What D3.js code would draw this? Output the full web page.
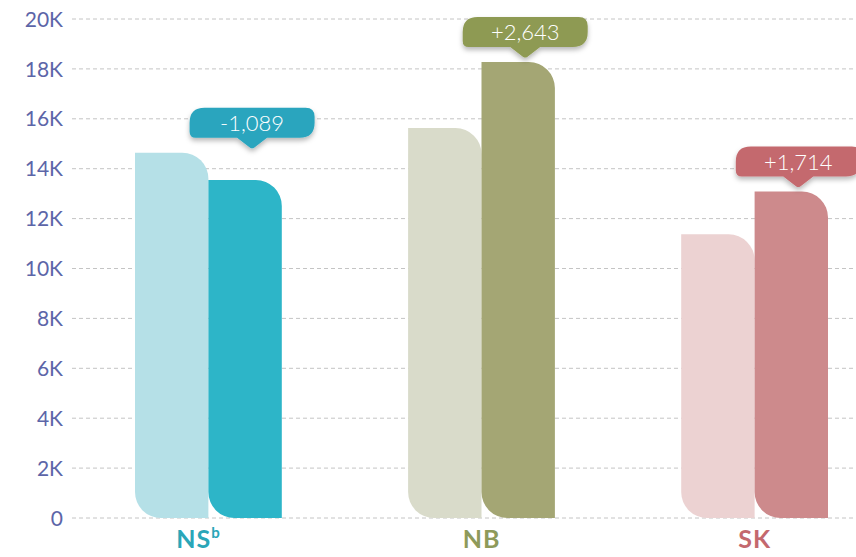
<!DOCTYPE html>
<html>
<head>
<meta charset="utf-8">
<script src="https://cdn.jsdelivr.net/npm/d3@7"></script>
<style>
  html, body { margin: 0; padding: 0; background: #ffffff; }
  svg { display: block; }
</style>
</head>
<body>
<svg id="chart" width="856" height="557"></svg>
<script>
// ---- data ----
const categories   = ["NS", "NB", "SK"];
const superscripts = ["b", "", ""];
const previous     = [14640, 15630, 11370];
const current      = [13551, 18273, 13084];
const changes      = [-1089, 2643, 1714];
const yTickValues  = [0, 2000, 4000, 6000, 8000, 10000, 12000, 14000, 16000, 18000, 20000];
const yTickLabels  = ["0", "2K", "4K", "6K", "8K", "10K", "12K", "14K", "16K", "18K", "20K"];

// ---- styles ----
const lightColors  = ["#b5e0e7", "#d9dbca", "#ecd2d2"];
const darkColors   = ["#2db5c8", "#a4a674", "#cd8a8c"];
const calloutColors= ["#2aa5be", "#8e9a52", "#c4696e"];
const labelColors  = ["#2aa6b8", "#8e9a5a", "#c4686e"];

const svg = d3.select("#chart");
const W = 856, H = 557;

const y = d3.scaleLinear().domain([0, 20000]).range([518, 19]);
const x = d3.scaleBand().domain(categories).range([135, 828]).paddingInner(0.4625).paddingOuter(0);
const xs = d3.scaleBand().domain(["prev", "curr"]).range([0, x.bandwidth()]).padding(0);

const defs = svg.append("defs");
const f = defs.append("filter").attr("id", "shadow").attr("x", "-20%").attr("y", "-30%").attr("width", "140%").attr("height", "190%");
f.append("feDropShadow").attr("dx", 0).attr("dy", 3).attr("stdDeviation", 2.5)
  .attr("flood-color", "#000").attr("flood-opacity", 0.28);

// grid
const gridX0 = 72;
svg.append("g").selectAll("line").data(yTickValues).join("line")
  .attr("x1", gridX0).attr("x2", W)
  .attr("y1", d => y(d)).attr("y2", d => y(d))
  .attr("stroke", "#c4c4c4").attr("stroke-width", 1)
  .attr("stroke-dasharray", "4,3");

// y axis labels
const yAxis = d3.axisLeft(y).tickValues(yTickValues)
  .tickFormat((d, i) => yTickLabels[i]).tickSize(0).tickPadding(9);
const ya = svg.append("g").attr("transform", `translate(${gridX0},0)`).call(yAxis);
ya.select(".domain").remove();
ya.selectAll("text")
  .attr("fill", "#5c65a8")
  .attr("font-family", "Lato, 'Noto Sans', sans-serif")
  .attr("font-size", 21)
  .attr("dy", "0.34em");

// bar path: top-right & bottom-left rounded
function barPathArc(x0, x1, yt, yb, r) {
  const rr = Math.min(r, (x1 - x0) / 2, (yb - yt) / 2);
  return `M${x0},${yt} L${x1 - rr},${yt} A${rr},${rr} 0 0 1 ${x1},${yt + rr} ` +
         `L${x1},${yb} L${x0 + rr},${yb} A${rr},${rr} 0 0 1 ${x0},${yb - rr} Z`;
}

const rows = categories.map((c, i) => ({ c, i, prev: previous[i], curr: current[i], change: changes[i] }));

const groups = svg.append("g").selectAll("g").data(rows).join("g")
  .attr("transform", d => `translate(${x(d.c)},0)`);

groups.append("path")
  .attr("d", d => barPathArc(xs("prev"), xs("prev") + xs.bandwidth(), y(d.prev), y(0), 26))
  .attr("fill", d => lightColors[d.i]);
groups.append("path")
  .attr("d", d => barPathArc(xs("curr"), xs("curr") + xs.bandwidth(), y(d.curr), y(0), 26))
  .attr("fill", d => darkColors[d.i]);

// category labels
const lab = svg.append("g").selectAll("text").data(rows).join("text")
  .attr("x", d => x(d.c) + x.bandwidth() / 2 - (superscripts[d.i] ? 10 : 0))
  .attr("y", 548)
  .attr("text-anchor", "middle")
  .attr("font-family", "Lato, 'Noto Sans', sans-serif")
  .attr("font-weight", 700)
  .attr("font-size", 25)
  .attr("letter-spacing", 1)
  .attr("fill", d => labelColors[d.i]);
lab.append("tspan").text(d => d.c);
lab.filter(d => superscripts[d.i]).append("tspan")
  .attr("font-size", 15).attr("dy", -10).text(d => superscripts[d.i]);

// callouts
const fmt = v => (v > 0 ? "+" : "-") + d3.format(",")(Math.abs(v));
const bw = 125, bh = 30, ph = 11, pw = 15;
function calloutPath(cx, tipY) {
  const yb = tipY - ph, yt = yb - bh, x0 = cx - bw / 2, x1 = cx + bw / 2;
  const rTL = 15, rTR = 9, rBR = 15, rBL = 6;
  return `M${x0 + rTL},${yt} L${x1 - rTR},${yt} Q${x1},${yt} ${x1},${yt + rTR} ` +
         `L${x1},${yb - rBR} Q${x1},${yb} ${x1 - rBR},${yb} ` +
         `L${cx + pw},${yb} L${cx + 2},${tipY - 1} Q${cx},${tipY} ${cx - 2},${tipY - 1} L${cx - pw},${yb} ` +
         `L${x0 + rBL},${yb} Q${x0},${yb} ${x0},${yb - rBL} ` +
         `L${x0},${yt + rTL} Q${x0},${yt} ${x0 + rTL},${yt} Z`;
}
const co = svg.append("g").selectAll("g").data(rows).join("g");
co.each(function(d) {
  const g = d3.select(this);
  const cx = x(d.c) + xs("curr") + xs.bandwidth() / 2 + 7;
  const tipY = y(Math.max(d.prev, d.curr)) - 4;
  g.append("path").attr("d", calloutPath(cx, tipY))
    .attr("fill", calloutColors[d.i]).attr("filter", "url(#shadow)");
  g.append("text")
    .attr("x", cx).attr("y", tipY - ph - bh + 23)
    .attr("text-anchor", "middle")
    .attr("font-family", "Lato, 'Noto Sans', sans-serif")
    .attr("font-weight", 300)
    .attr("font-size", 22)
    .attr("fill", "#ffffff")
    .text(fmt(d.change));
});
</script>
</body>
</html>
